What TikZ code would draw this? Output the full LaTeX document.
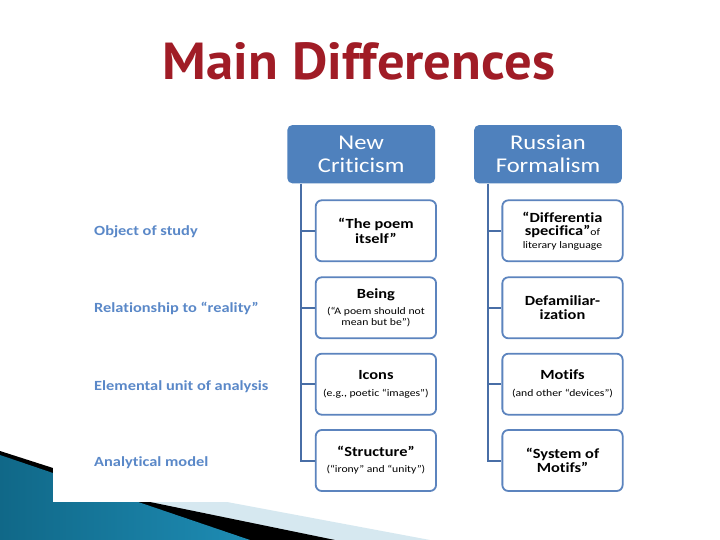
\documentclass[tikz,border=0pt]{standalone}
\usepackage{fontspec}
\setmainfont{Carlito}[FakeStretch=1.17, Ligatures={NoCommon}]
\newfontfamily\titlefont{PT Sans}[Ligatures={NoCommon}]
\definecolor{hdrblue}{RGB}{79,129,189}
\definecolor{bdrblue}{RGB}{92,132,190}
\definecolor{lineblue}{RGB}{72,110,166}
\definecolor{lblblue}{RGB}{90,136,200}
\definecolor{titlered}{RGB}{160,28,38}
\definecolor{tealA}{RGB}{16,104,136}
\definecolor{tealB}{RGB}{72,176,212}
\definecolor{tealC}{RGB}{30,140,180}
\definecolor{paleblue}{RGB}{214,232,240}
\newcommand\subtxt[1]{{\mdseries\fontsize{10}{11}\selectfont #1}}
\tikzset{
  hdr/.style={fill=hdrblue, rounded corners=5pt, minimum width=147.7pt, minimum height=58.3pt,
    text=white, font=\fontsize{21}{23}\selectfont, align=center, inner sep=0pt},
  cbox/.style={draw=bdrblue, line width=1.8pt, rounded corners=6pt, fill=white,
    minimum width=120.3pt, minimum height=61pt, align=center,
    font=\bfseries\fontsize{14}{15}\selectfont, inner sep=0pt},
  conn/.style={draw=lineblue, line width=2pt},
  rowlbl/.style={anchor=base west, text=lblblue, font=\bfseries\fontsize{14}{15}\selectfont, inner sep=0pt}
}
\begin{document}
\begin{tikzpicture}[x=1pt,y=-1pt]
\useasboundingbox (0,0) rectangle (720,540);
\fill[white] (0,0) rectangle (720,540);
% bottom-left decoration
\fill[paleblue] (150,502) -- (227,502) -- (430,540) -- (150,540) -- cycle;
\fill[black] (0,451) -- (53,468) -- (53,502) -- (150,502) -- (335,540) -- (0,540) -- cycle;
\shade[left color=tealA, middle color=tealB, right color=tealC] (0,455) -- (250,540) -- (0,540) -- cycle;
\fill[white] (53,440) rectangle (640,502);
% title
\node[anchor=base, inner sep=0pt, text=titlered] (title) at (359,80)
  {\resizebox{392pt}{37pt}{\titlefont\bfseries Main Differences}};
% headers
\node[hdr] (nc) at (361.2,154.2) {New\\Criticism};
\node[hdr] (rf) at (548,154.2) {Russian\\Formalism};
% row labels
\node[rowlbl] (l1) at (94,235.3) {Object of study};
\node[rowlbl] (l2) at (94,312.7) {Relationship to “reality”};
\node[rowlbl] (l3) at (94,390) {Elemental unit of analysis};
\node[rowlbl] (l4) at (94,466.7) {Analytical model};
% New Criticism column
\node[cbox] (nc1) at (375.9,230.8) {“The poem\\itself”};
\node[cbox] (nc2) at (375.9,307.8) {Being\\[1.7pt]\subtxt{(“A poem should not}\\[-4pt]\subtxt{mean but be”)}};
\node[cbox] (nc3) at (375.9,384.2) {Icons\\[2pt]\subtxt{(e.g., poetic “images”)}};
\node[cbox] (nc4) at (375.9,460.5) {“Structure”\\[1pt]\subtxt{(“irony” and “unity”)}};
% Russian Formalism column
\node[cbox] (rf1) at (562.5,230.8) {“Differentia\\[-2pt]specifica”\subtxt{of}\\[-2pt]\subtxt{literary language}};
\node[cbox] (rf2) at (562.5,307.8) {Defamiliar-\\[-1.5pt]ization};
\node[cbox] (rf3) at (562.5,384.2) {Motifs\\[2pt]\subtxt{(and other “devices”)}};
\node[cbox] (rf4) at (562.5,460.5) {“System of\\[-1pt]Motifs”};
% connectors
\coordinate (ncbus) at (301,183);
\coordinate (rfbus) at (488.3,183);
\draw[conn] (nc.south -| ncbus) |- (nc4.west);
\draw[conn] (nc1.west -| ncbus) -- (nc1.west);
\draw[conn] (nc2.west -| ncbus) -- (nc2.west);
\draw[conn] (nc3.west -| ncbus) -- (nc3.west);
\draw[conn] (rf.south -| rfbus) |- (rf4.west);
\draw[conn] (rf1.west -| rfbus) -- (rf1.west);
\draw[conn] (rf2.west -| rfbus) -- (rf2.west);
\draw[conn] (rf3.west -| rfbus) -- (rf3.west);
\end{tikzpicture}
\end{document}
